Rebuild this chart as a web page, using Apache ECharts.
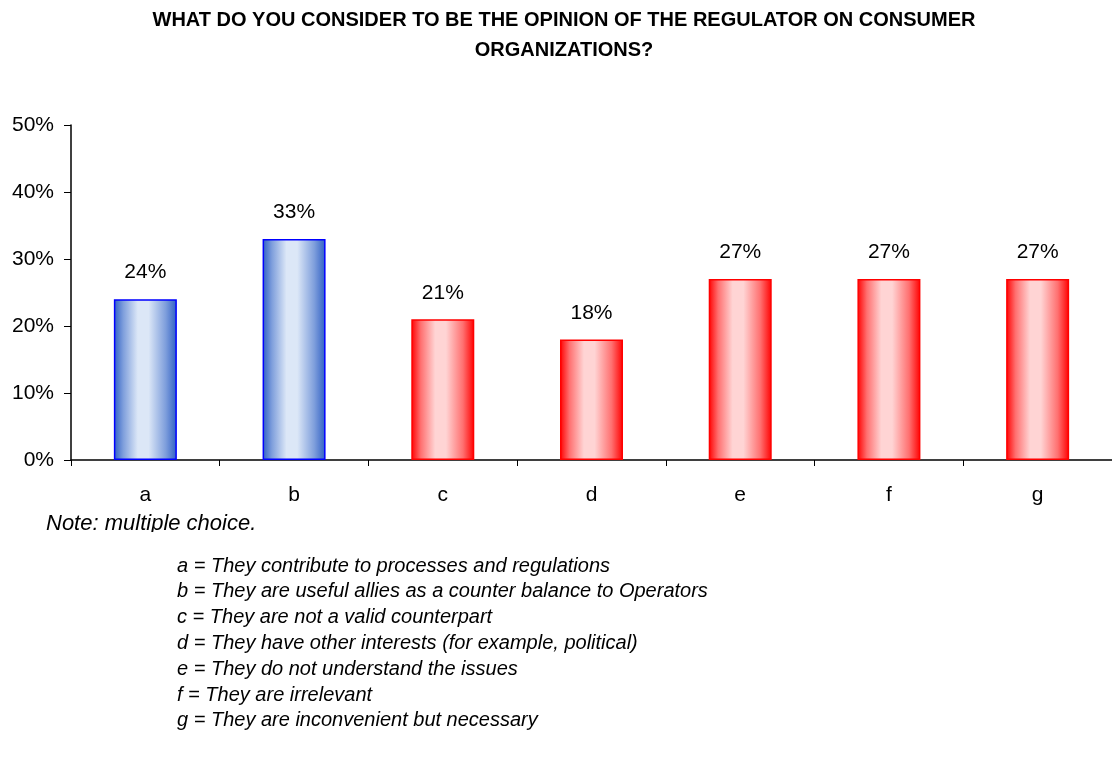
<!DOCTYPE html>
<html>
<head>
<meta charset="utf-8">
<script src="https://cdn.jsdelivr.net/npm/echarts@6/dist/echarts.min.js"></script>
<style>
  html, body { margin: 0; padding: 0; background: #fff; }
  #chart { width: 1112px; height: 758px; }
</style>
</head>
<body>
<div id="chart"></div>
<script>
// Answer categories and their share of respondents (percent)
const categories = ['a', 'b', 'c', 'd', 'e', 'f', 'g'];
const values = [24, 33, 21, 18, 27, 27, 27];
// Which answers are drawn in blue (positive view) vs red (negative view)
const tone = ['blue', 'blue', 'red', 'red', 'red', 'red', 'red'];
const yTicks = [0, 10, 20, 30, 40, 50];

const titleLines = [
  'WHAT DO YOU CONSIDER TO BE THE OPINION OF THE REGULATOR ON CONSUMER',
  'ORGANIZATIONS?'
];
const noteText = 'Note: multiple choice.';
const keyLines = [
  'a = They contribute to processes and regulations',
  'b = They are useful allies as a counter balance to Operators',
  'c = They are not a valid counterpart',
  'd = They have other interests (for example, political)',
  'e = They do not understand the issues',
  'f = They are irrelevant',
  'g = They are inconvenient but necessary'
];

const FONT = 'Liberation Sans, Arial, sans-serif';

// Cylinder-like horizontal shading: dark edges, pale centre
function barFill(kind) {
  const edge = kind === 'blue' ? '#2f5fc4' : '#ff0000';
  const mid1 = kind === 'blue' ? '#7f9fdc' : '#ff7070';
  const light = kind === 'blue' ? '#dce7f7' : '#ffd4d4';
  return new echarts.graphic.LinearGradient(0, 0, 1, 0, [
    { offset: 0, color: edge },
    { offset: 0.15, color: mid1 },
    { offset: 0.38, color: light },
    { offset: 0.55, color: light },
    { offset: 0.82, color: mid1 },
    { offset: 1, color: edge }
  ]);
}

const chart = echarts.init(document.getElementById('chart'), null, { renderer: 'canvas' });

const graphics = [];
titleLines.forEach((t, i) => {
  graphics.push({
    type: 'text', x: 564, y: 10 + i * 30,
    style: { text: t, font: 'bold 20px ' + FONT, fill: '#000', textAlign: 'center', textVerticalAlign: 'top' }
  });
});
graphics.push({
  type: 'text', left: 46, top: 513,
  style: { text: noteText, font: 'italic 22px ' + FONT, fill: '#000' }
});
// white strip trims the lower part of the note line
graphics.push({
  type: 'rect', shape: { x: 0, y: 532, width: 400, height: 16 },
  style: { fill: '#fff' }, z: 100
});
keyLines.forEach((t, i) => {
  graphics.push({
    type: 'text', left: 177, top: 556 + i * 25.8,
    style: { text: t, font: 'italic 20px ' + FONT, fill: '#000' }
  });
});

chart.setOption({
  animation: false,
  backgroundColor: '#fff',
  textStyle: { fontFamily: FONT },
  grid: { left: 71, top: 125, width: 1046, height: 335, containLabel: false },
  xAxis: {
    type: 'category',
    data: categories,
    axisLine: { lineStyle: { color: '#000', width: 1.5 } },
    axisTick: { show: true, alignWithLabel: false, length: 6, inside: false, lineStyle: { color: '#000' } },
    axisLabel: { color: '#000', fontSize: 21, margin: 25, fontFamily: FONT }
  },
  yAxis: {
    type: 'value',
    min: yTicks[0], max: yTicks[yTicks.length - 1], interval: 10,
    axisLine: { show: true, lineStyle: { color: '#000', width: 1.5 } },
    axisTick: { show: true, length: 7, lineStyle: { color: '#000' } },
    splitLine: { show: false },
    axisLabel: { color: '#000', fontSize: 21, margin: 17, fontFamily: FONT, formatter: v => v + '%' }
  },
  series: [{
    type: 'bar',
    barWidth: 63,
    data: values.map((v, i) => ({
      value: v,
      itemStyle: {
        color: barFill(tone[i]),
        borderColor: tone[i] === 'blue' ? '#0000ff' : '#ff0000',
        borderWidth: 1.5
      }
    })),
    label: {
      show: true, position: 'top', distance: 16,
      color: '#000', fontSize: 21, fontFamily: FONT,
      formatter: p => p.value + '%'
    }
  }],
  graphic: graphics
});
</script>
</body>
</html>
